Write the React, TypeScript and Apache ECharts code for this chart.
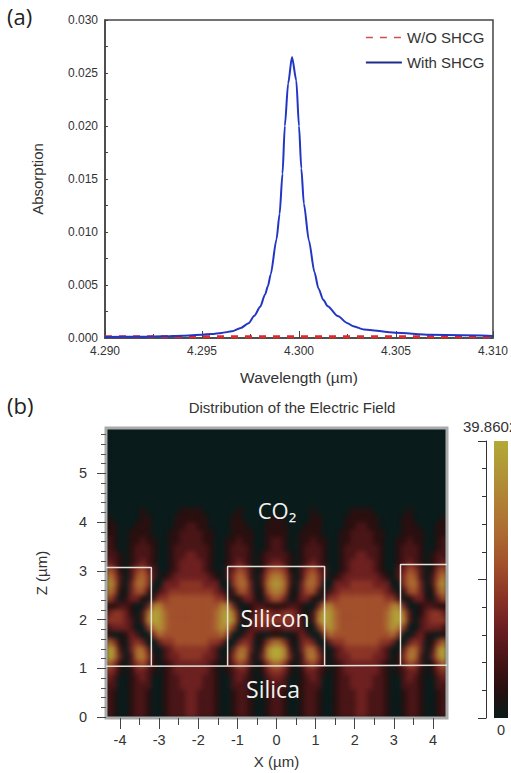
import React, { useEffect, useRef } from "react";
import * as echarts from "echarts";

const SANS = "'Liberation Sans', Arial, sans-serif";
const HUMANIST = "'Open Sans', 'Noto Sans', sans-serif";

// Panel (a)
const withShcg: [number, number][] = [
  [4.29, 0.0001], [4.292, 0.00012], [4.293, 0.00016], [4.294, 0.00022], [4.295, 0.00031],
  [4.2955, 0.00038], [4.296, 0.00048], [4.29655, 0.00063], [4.297, 0.00095], [4.2974, 0.00139],
  [4.2977, 0.0021], [4.298, 0.00295], [4.29825, 0.0041], [4.2984, 0.0049], [4.29854, 0.006],
  [4.29884, 0.0093], [4.299, 0.0117], [4.29915, 0.0155], [4.29927, 0.02], [4.29944, 0.024],
  [4.29964, 0.0265], [4.29986, 0.0243], [4.3, 0.02], [4.30012, 0.016], [4.30025, 0.0127],
  [4.30051, 0.0092], [4.3008, 0.0062], [4.301, 0.0047], [4.30125, 0.0036], [4.30148, 0.003],
  [4.302, 0.00207], [4.3025, 0.0014], [4.3028, 0.0011], [4.30335, 0.0008], [4.30496, 0.0005],
  [4.30675, 0.0003], [4.31, 0.0002],
];
const withoutShcg: [number, number][] = [[4.29, 0.00012], [4.31, 0.00012]];

// Panel (b): field level (0-9) read per cell. First row is the bottom of the plot, 60 columns, 40 rows.
const fieldRows: string[] = [
  "210012210012223322210012210012210012210012223322210012210012",
  "210012210012223322210012210012210012210012223322210012210012",
  "210012210012223322210012210012210012210012223322210012210012",
  "210012210012223322210012210012210012210012223322210012210012",
  "220012220012233332210022210022220012220012233332210022210022",
  "320012320012233332210023210023320012320012233332210023210023",
  "431013321012333333210123310134431013321012333333210123310134",
  "641024531012333333210135420146641024531012333333210135420146",
  "973026741023344443320147620379973026741023344443320147620379",
  "972036630023444444320036630279972036630023444444320036630279",
  "641034300344555555443003430146641034300344555555443003430146",
  "100132004655555555556400231001100132004655555555556400231001",
  "233320047865555555568740023332233320047865555555568740023332",
  "444320279865555555568972023444444320279865555555568972023444",
  "344310269865555555568962013443344310269865555555568962013443",
  "112210037755555555557730012211112210037755555555557730012211",
  "530133102445555555544201331035530133102445555555544201331035",
  "751035520234444444432025530157751035520234444444432025530157",
  "862036640033344443330046630268862036640033344443330046630268",
  "752025642012333333210246520257752025642012333333210246520257",
  "541024532001233332100235420145541024532001233332100235420145",
  "321012321001233332100123210123321012321001233332100123210123",
  "221012221001223322100122210122221012221001223322100122210122",
  "210012221001222222100122210012210012221001222222100122210012",
  "210011211001122221100112110012210011211001122221100112110012",
  "110011110001122221100011110011110011110001122221100011110011",
  "110001110000112211000011100011110001110000112211000011100011",
  "100000110000111111000011000001100000110000111111000011000001",
  "000000100000011110000001000000000000100000011110000001000000",
  "000000000000000000000000000000000000000000000000000000000000",
  "000000000000000000000000000000000000000000000000000000000000",
  "000000000000000000000000000000000000000000000000000000000000",
  "000000000000000000000000000000000000000000000000000000000000",
  "000000000000000000000000000000000000000000000000000000000000",
  "000000000000000000000000000000000000000000000000000000000000",
  "000000000000000000000000000000000000000000000000000000000000",
  "000000000000000000000000000000000000000000000000000000000000",
  "000000000000000000000000000000000000000000000000000000000000",
  "000000000000000000000000000000000000000000000000000000000000",
  "000000000000000000000000000000000000000000000000000000000000",
];
const fieldMax = 39.8602;
const fieldColors = [
  "#091b1a", "#2a0f0f", "#4a1517", "#6e2020", "#8c3526",
  "#a2502c", "#ac6a31", "#b07f35", "#b09537", "#b4a936",
];

const xMajor = [-4, -3, -2, -1, 0, 1, 2, 3, 4];
const xMinor = [-3.5, -2.5, -1.5, -0.5, 0.5, 1.5, 2.5, 3.5];
const zMajor = [0, 1, 2, 3, 4, 5];
const zMinor = [
  0.2, 0.4, 0.6, 0.8, 1.2, 1.4, 1.6, 1.8, 2.2, 2.4, 2.6, 2.8,
  3.2, 3.4, 3.6, 3.8, 4.2, 4.4, 4.6, 4.8, 5.2, 5.4, 5.6, 5.8,
];

// Silicon / silica outlines, in micrometres
const baseOutline: [number, number][] = [[-4.36, 1.04], [4.36, 1.06]];
const centerOutline: [number, number][] = [[-1.25, 1.05], [-1.25, 3.09], [1.23, 3.09], [1.23, 1.05]];
const leftOutline: [number, number][] = [[-4.36, 3.07], [-3.2, 3.07], [-3.2, 1.05]];
const rightOutline: [number, number][] = [[3.17, 1.06], [3.17, 3.13], [4.36, 3.13]];

const PLOT_B = { left: 106, top: 428, width: 341, height: 290 };

export default function App() {
  const heatRef = useRef<HTMLDivElement>(null);
  const mainRef = useRef<HTMLDivElement>(null);

  useEffect(() => {
    const heat = echarts.init(heatRef.current!, undefined, { renderer: "svg" });
    const main = echarts.init(mainRef.current!, undefined, { renderer: "svg" });

    const cols = fieldRows[0].length;
    const cells: number[][] = [];
    fieldRows.forEach((row, j) => {
      row.split("").forEach((ch, i) => {
        cells.push([i, j, (Number(ch) / 9) * fieldMax]);
      });
    });

    heat.setOption({
      animation: false,
      grid: { left: 0, top: 0, right: 0, bottom: 0 },
      xAxis: { type: "category", show: false, data: Array.from({ length: cols }, (_, i) => i) },
      yAxis: { type: "category", show: false, data: fieldRows.map((_, j) => j) },
      visualMap: {
        show: false, min: 0, max: fieldMax, dimension: 2,
        inRange: { color: fieldColors },
      },
      series: [{ type: "heatmap", data: cells, progressive: 0, itemStyle: { borderWidth: 0 } }],
    });

    const tickText = { color: "#333", fontFamily: SANS };
    const whiteLine = { color: "#e6e2da", width: 1.5 };
    const outline = (name: string, data: [number, number][]) => ({
      name, type: "line", xAxisIndex: 1, yAxisIndex: 1, data, symbol: "none", silent: true,
      lineStyle: whiteLine, z: 5,
    });

    main.setOption({
      animation: false,
      backgroundColor: "transparent",
      textStyle: { fontFamily: SANS },
      legend: {
        left: 365, top: 30, padding: 0, orient: "vertical", itemWidth: 36, itemHeight: 15, itemGap: 10,
        textStyle: { fontSize: 15, color: "#333", fontFamily: SANS },
        data: [
          { name: "W/O SHCG", itemStyle: { opacity: 0 }, lineStyle: { color: "#d05050", width: 1.5, type: [7, 7] } },
          { name: "With SHCG", itemStyle: { opacity: 0 }, lineStyle: { color: "#1f2a8a", width: 1.8 } },
        ],
      },
      grid: [
        { left: 105, top: 20, width: 392, height: 318, show: true, borderColor: "#444", borderWidth: 1.5, backgroundColor: "transparent" },
        { left: PLOT_B.left, top: PLOT_B.top, width: PLOT_B.width, height: PLOT_B.height, show: true, borderColor: "#aaa", borderWidth: 3, backgroundColor: "transparent" },
        { left: 486, top: 441, width: 1, height: 277 },
      ],
      xAxis: [
        {
          gridIndex: 0, type: "value", min: 4.29, max: 4.31, interval: 0.005,
          name: "Wavelength (µm)", nameLocation: "middle", nameGap: 31,
          nameTextStyle: { fontSize: 15.5, color: "#333" },
          axisLine: { lineStyle: { color: "#444", width: 1.5 } },
          axisTick: { inside: true, length: 7, lineStyle: { color: "#444" } },
          minorTick: { show: true, splitNumber: 2, length: 4, lineStyle: { color: "#444" } },
          splitLine: { show: false },
          axisLabel: { ...tickText, fontSize: 12, margin: 7, formatter: (v: number) => v.toFixed(3), hideOverlap: false },
        },
        {
          gridIndex: 1, type: "value", position: "bottom", min: -4.36, max: 4.36,
          name: "X (µm)", nameLocation: "middle", nameGap: 36,
          nameTextStyle: { fontSize: 15, color: "#333" },
          axisLine: { show: false, onZero: false },
          axisTick: { length: 11, customValues: xMajor, lineStyle: { color: "#444" } },
          splitLine: { show: false },
          axisLabel: { ...tickText, fontSize: 14.5, margin: 14, customValues: xMajor },
        },
        {
          gridIndex: 1, type: "value", position: "bottom", min: -4.36, max: 4.36,
          axisLine: { show: false, onZero: false },
          axisTick: { length: 7, customValues: xMinor, lineStyle: { color: "#444" } },
          splitLine: { show: false },
          axisLabel: { show: false },
        },
        { gridIndex: 2, type: "value", min: 0, max: 1, show: false },
      ],
      yAxis: [
        {
          gridIndex: 0, type: "value", min: 0, max: 0.03, interval: 0.005,
          name: "Absorption", nameLocation: "middle", nameGap: 60,
          nameTextStyle: { fontSize: 15, color: "#333" },
          axisLine: { lineStyle: { color: "#444", width: 1.5 } },
          axisTick: { inside: true, length: 3, lineStyle: { color: "#444" } },
          minorTick: { show: true, splitNumber: 2, length: 3, lineStyle: { color: "#444" } },
          splitLine: { show: false },
          axisLabel: { ...tickText, fontSize: 12, margin: 7, formatter: (v: number) => v.toFixed(3) },
        },
        {
          gridIndex: 1, type: "value", position: "left", min: -0.02, max: 5.93,
          name: "Z (µm)", nameLocation: "middle", nameGap: 57,
          nameTextStyle: { fontSize: 15, color: "#333" },
          axisLine: { show: false, onZero: false },
          axisTick: { length: 9, customValues: zMajor, lineStyle: { color: "#444" } },
          splitLine: { show: false },
          axisLabel: { ...tickText, fontSize: 14.5, margin: 19, customValues: zMajor },
        },
        {
          gridIndex: 1, type: "value", position: "left", min: -0.02, max: 5.93,
          axisLine: { show: false, onZero: false },
          axisTick: { length: 5, customValues: zMinor, lineStyle: { color: "#555" } },
          splitLine: { show: false },
          axisLabel: { show: false },
        },
        {
          gridIndex: 2, type: "value", min: 0, max: fieldMax, interval: fieldMax / 2,
          axisLine: { show: true, onZero: false, lineStyle: { color: "#333", width: 1 } },
          axisTick: { show: true, length: 8, lineStyle: { color: "#333" } },
          minorTick: { show: true, splitNumber: 5, length: 4, lineStyle: { color: "#333" } },
          splitLine: { show: false },
          axisLabel: { show: false },
        },
      ],
      series: [
        {
          name: "W/O SHCG", type: "line", data: withoutShcg, symbol: "none",
          lineStyle: { color: "#dd2a2a", width: 3, type: [7, 7] },
        },
        {
          name: "With SHCG", type: "line", data: withShcg, symbol: "none",
          smooth: 0.25, smoothMonotone: "x",
          lineStyle: { color: "#2236c4", width: 2 },
        },
        outline("base", baseOutline),
        outline("silicon centre", centerOutline),
        outline("silicon left", leftOutline),
        outline("silicon right", rightOutline),
      ],
      graphic: [
        { type: "text", x: 7, y: 5, style: { text: "(a)", fontFamily: HUMANIST, fontSize: 22, fill: "#222" } },
        { type: "text", x: 7, y: 394, style: { text: "(b)", fontFamily: HUMANIST, fontSize: 22, fill: "#222" } },
        { type: "text", x: 292, y: 400, style: { text: "Distribution of the Electric Field", fontFamily: SANS, fontSize: 15, fill: "#333", align: "center" } },
        { type: "text", x: 463, y: 419, style: { text: "39.8602", fontFamily: SANS, fontSize: 15, fill: "#333" } },
        { type: "text", x: 501, y: 722, style: { text: "0", fontFamily: SANS, fontSize: 14.5, fill: "#333", align: "center" } },
        { type: "text", x: 277, y: 499, z: 20, style: { text: "CO₂", fontFamily: HUMANIST, fontSize: 22, fill: "#f2f2ee", align: "center" } },
        { type: "text", x: 275, y: 606, z: 20, style: { text: "Silicon", fontFamily: HUMANIST, fontSize: 23, fill: "#f2f2ee", align: "center" } },
        { type: "text", x: 273, y: 677, z: 20, style: { text: "Silica", fontFamily: HUMANIST, fontSize: 23, fill: "#f2f2ee", align: "center" } },
        {
          type: "rect", shape: { x: 494, y: 441, width: 14, height: 277 },
          style: {
            fill: new echarts.graphic.LinearGradient(0, 1, 0, 0,
              fieldColors.map((color, i) => ({ offset: i / (fieldColors.length - 1), color }))),
          },
        },
      ],
    });

    return () => {
      heat.dispose();
      main.dispose();
    };
  }, []);

  return (
    <div style={{ position: "absolute", left: 0, top: 0, width: 511, height: 773, overflow: "hidden", background: "#fff" }}>
      <div style={{ position: "absolute", ...PLOT_B, overflow: "hidden", background: fieldColors[0] }}>
        <div ref={heatRef} style={{ width: PLOT_B.width, height: PLOT_B.height, filter: "blur(2.5px)" }} />
      </div>
      <div ref={mainRef} style={{ position: "absolute", left: 0, top: 0, width: 511, height: 773 }} />
    </div>
  );
}
